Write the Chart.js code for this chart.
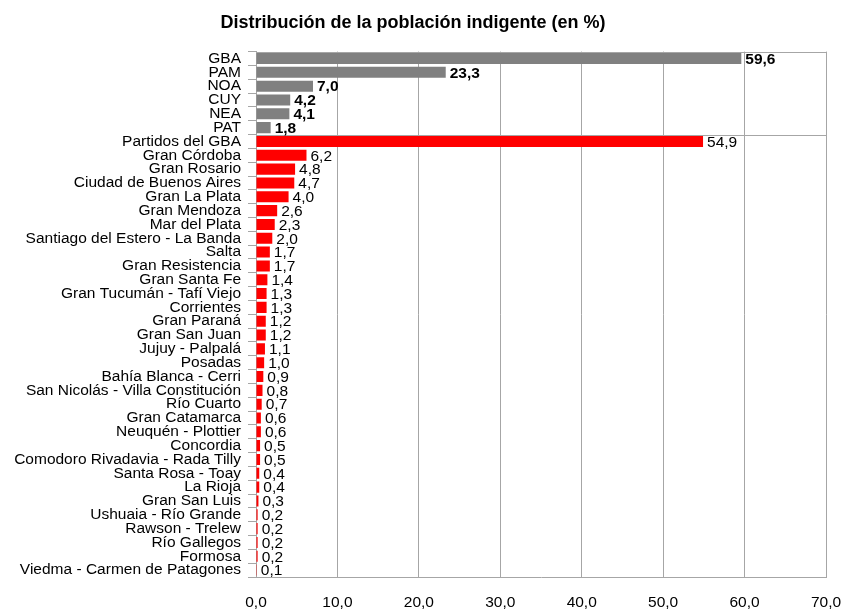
<!DOCTYPE html>
<html>
<head>
<meta charset="utf-8">
<script src="https://cdn.jsdelivr.net/npm/chart.js@4"></script>
<style>
  html, body { margin: 0; padding: 0; background: #fff; }
  #wrap { width: 842px; height: 610px; }
</style>
</head>
<body>
<div id="wrap"><canvas id="chart" width="842" height="610"></canvas></div>
<script>
// Regions (gray, bold labels) then urban agglomerations (red)
const regionLabels = ['GBA', 'PAM', 'NOA', 'CUY', 'NEA', 'PAT'];
const regionValues = [59.6, 23.3, 7.0, 4.2, 4.1, 1.8];

const cityLabels = [
  'Partidos del GBA', 'Gran Córdoba', 'Gran Rosario', 'Ciudad de Buenos Aires',
  'Gran La Plata', 'Gran Mendoza', 'Mar del Plata', 'Santiago del Estero - La Banda',
  'Salta', 'Gran Resistencia', 'Gran Santa Fe', 'Gran Tucumán - Tafí Viejo',
  'Corrientes', 'Gran Paraná', 'Gran San Juan', 'Jujuy - Palpalá', 'Posadas',
  'Bahía Blanca - Cerri', 'San Nicolás - Villa Constitución', 'Río Cuarto',
  'Gran Catamarca', 'Neuquén - Plottier', 'Concordia', 'Comodoro Rivadavia - Rada Tilly',
  'Santa Rosa - Toay', 'La Rioja', 'Gran San Luis', 'Ushuaia - Río Grande',
  'Rawson - Trelew', 'Río Gallegos', 'Formosa', 'Viedma - Carmen de Patagones'
];
const cityValues = [
  54.9, 6.2, 4.8, 4.7, 4.0, 2.6, 2.3, 2.0, 1.7, 1.7, 1.4, 1.3, 1.3, 1.2, 1.2, 1.1,
  1.0, 0.9, 0.8, 0.7, 0.6, 0.6, 0.5, 0.5, 0.4, 0.4, 0.3, 0.2, 0.2, 0.2, 0.2, 0.1
];

const xTicks = [0, 10, 20, 30, 40, 50, 60, 70];

const labels = regionLabels.concat(cityLabels);
const values = regionValues.concat(cityValues);
const colors = labels.map((_, i) => i < regionLabels.length ? '#808080' : '#FF0000');

const FONT = '"Liberation Sans", Arial, sans-serif';
const fmt = v => v.toFixed(1).replace('.', ',');

// value labels, top border and the separator between regions and cities
const extrasPlugin = {
  id: 'extras',
  afterDatasetsDraw(chart) {
    const ctx = chart.ctx;
    const area = chart.chartArea;
    const yScale = chart.scales.y;
    ctx.save();
    ctx.strokeStyle = '#a6a6a6';
    ctx.lineWidth = 1;
    ctx.beginPath();
    ctx.moveTo(area.left, Math.round(area.top) + 0.5);
    ctx.lineTo(area.right, Math.round(area.top) + 0.5);
    const sepY = (yScale.getPixelForValue(regionLabels.length - 1) + yScale.getPixelForValue(regionLabels.length)) / 2;
    ctx.moveTo(area.left, Math.round(sepY) + 0.5);
    ctx.lineTo(area.right, Math.round(sepY) + 0.5);
    ctx.stroke();

    const meta = chart.getDatasetMeta(0);
    ctx.fillStyle = '#000';
    ctx.textBaseline = 'middle';
    ctx.textAlign = 'left';
    meta.data.forEach((bar, i) => {
      const bold = i < regionLabels.length;
      ctx.font = (bold ? 'bold ' : '') + '15.5px ' + FONT;
      ctx.fillText(fmt(values[i]), bar.x + 4, bar.y + 1);
    });
    ctx.restore();
  }
};

new Chart(document.getElementById('chart'), {
  type: 'bar',
  data: {
    labels,
    datasets: [{
      data: values,
      backgroundColor: colors,
      barPercentage: 0.8,
      categoryPercentage: 1.0
    }]
  },
  options: {
    indexAxis: 'y',
    responsive: false,
    animation: false,
    layout: { padding: { top: 4, right: 16, bottom: 0, left: 0 } },
    plugins: {
      legend: { display: false },
      tooltip: { enabled: false },
      title: {
        display: true,
        text: 'Distribución de la población indigente (en %)',
        color: '#000',
        font: { family: FONT, size: 18, weight: 'bold' },
        padding: { top: 8, bottom: 18 }
      }
    },
    scales: {
      x: {
        min: 0,
        max: 70,
        afterBuildTicks: axis => { axis.ticks = xTicks.map(v => ({ value: v })); },
        afterFit: axis => {
          axis.height = 33;
          axis.paddingRight = 0;
          axis.paddingLeft = 0;
        },
        grid: { color: '#a6a6a6', tickLength: 0 },
        border: { color: '#a6a6a6' },
        ticks: {
          color: '#000',
          font: { family: FONT, size: 15.5 },
          padding: 16,
          callback: v => fmt(v)
        }
      },
      y: {
        afterFit: axis => { axis.width = 256; },
        grid: { drawOnChartArea: false, tickLength: 8, color: '#a6a6a6', offset: true },
        border: { color: '#a6a6a6' },
        ticks: {
          color: '#000',
          autoSkip: false,
          padding: 7,
          font: { family: FONT, size: 15.5 }
        }
      }
    }
  },
  plugins: [extrasPlugin]
});
</script>
</body>
</html>
